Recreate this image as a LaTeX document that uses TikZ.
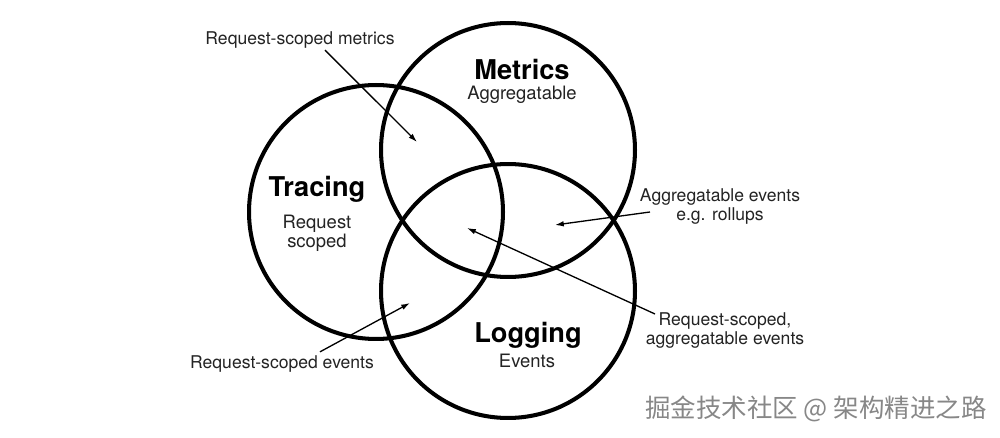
\documentclass[tikz,border=0pt]{standalone}
\usepackage{fontspec}
\setmainfont{TeX Gyre Heros}
\newfontfamily\cjkfont{Noto Sans CJK SC}
\usepackage{xcolor}
\usetikzlibrary{arrows.meta,calc}
\definecolor{ringline}{RGB}{0,0,0}
\definecolor{notetext}{RGB}{35,35,35}
\definecolor{markgray}{RGB}{135,135,135}
\begin{document}
\begin{tikzpicture}[x=0.02cm,y=-0.02cm,
  ring/.style={draw=ringline,line width=2.3pt,circle,minimum size=5.08cm,inner sep=0pt},
  settitle/.style={font=\fontsize{15.5}{18}\selectfont\bfseries,inner sep=0pt,anchor=base},
  setsub/.style={font=\fontsize{10.5}{10.8}\selectfont,inner sep=0pt,align=center,text=notetext},
  note/.style={font=\fontsize{10}{10.8}\selectfont,inner sep=0pt,align=center,text=notetext},
  pointer/.style={line width=0.75pt,-{Latex[length=5pt,width=3.2pt]}}]
  \useasboundingbox (0,0) rectangle (1000,438);
  \node[ring] (metrics) at (508,150) {};
  \node[ring] (tracing) at (376,212) {};
  \node[ring] (logging) at (508,291) {};
  \node[settitle] (metricsname) at (522,80) {Metrics};
  \node[setsub,anchor=base] (metricsrole) at (522,100) {Aggregatable};
  \node[settitle] (tracingname) at (317,197) {Tracing};
  \node[setsub] (tracingrole) at (317,233) {Request\\scoped};
  \node[settitle] (loggingname) at (528,343) {Logging};
  \node[setsub,anchor=base] (loggingrole) at (527,368) {Events};
  % notes round the sets
  \node[note,anchor=base] (reqmetrics) at (300,45) {Request-scoped metrics};
  \node[note] (aggevents) at (720,207) {Aggregatable events\\e.g. rollups};
  \node[note] (reqagg) at (725,331) {Request-scoped,\\aggregatable events};
  \node[note,anchor=base] (reqevents) at (282,369) {Request-scoped events};
  \coordinate (mtinner) at (417,142);
  \coordinate (mlinner) at (555,225);
  \coordinate (centre) at (467,228);
  \coordinate (tlinner) at (410,303);
  \draw[pointer] ($(reqmetrics.south)+(25,1)$) -- (mtinner);
  \draw[pointer] ($(aggevents.center)+(-70,5)$) -- (mlinner);
  \draw[pointer] ($(reqagg.center)+(-70,-17)$) -- (centre);
  \draw[pointer] ($(reqevents.north)+(38,-4)$) -- (tlinner);
  \node[font=\cjkfont\fontsize{14.5}{15}\selectfont,text=markgray] (mark) at (816,409) {掘金技术社区 @ 架构精进之路};
\end{tikzpicture}
\end{document}
